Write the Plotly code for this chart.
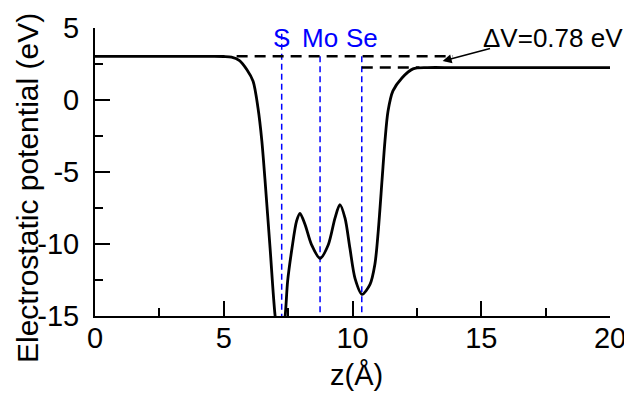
import plotly.graph_objects as go

# Planar-averaged electrostatic potential
z_vals = [0, 4.5, 5.0, 5.3, 5.6, 5.9, 6.14, 6.33, 6.48, 6.6, 6.8, 6.99, 7.18, 7.38, 7.48, 7.65,
          7.83, 7.96, 8.16, 8.41, 8.74, 9.06, 9.32, 9.51, 9.71, 9.9, 10.1, 10.37, 10.68,
          10.87, 11.0, 11.15, 11.26, 11.38, 11.57, 11.92, 12.35, 12.9, 14.0, 20.0]
v_vals = [3.03, 3.03, 3.02, 2.98, 2.75, 2.1, 1.3, -0.55, -2.85, -5.5, -10.3, -14.9, -17.5, -15.1, -12.6, -10.3,
          -8.4, -7.87, -8.66, -10.05, -11.0, -10.05, -8.2, -7.26, -8.2, -10.3, -12.4, -13.5, -12.8,
          -11.4, -9.1, -5.5, -2.85, -0.77, 0.63, 1.53, 2.16, 2.25, 2.25, 2.25]

atom_labels = ["S", "Mo", "Se"]
atom_z = [7.25, 8.74, 10.36]
atom_top = [4.6, 3.03, 3.03]

vac_left = 3.03
vac_right = 2.25
upper_dash_x = [5.5, 13.9]
lower_dash_x = [10.36, 12.6]
delta_label = "ΔV=0.78 eV"

x_ticks = [0, 5, 10, 15, 20]
y_ticks = [5, 0, -5, -10, -15]

FONT = "Arial, Liberation Sans, sans-serif"

# page body has an 8px default margin: figure occupies 624x387 starting at (8, 8)
PLOT_L, PLOT_R, PLOT_T, PLOT_B = 95, 610, 28, 316
PW, PH = PLOT_R - PLOT_L, PLOT_B - PLOT_T

fig = go.Figure()

# atom position lines
for zl, top in zip(atom_z, atom_top):
    fig.add_trace(go.Scatter(x=[zl, zl], y=[top, -15], mode="lines",
                             line=dict(color="#0000ff", width=1.5, dash="6px,4px"),
                             showlegend=False, hoverinfo="skip"))

# vacuum level dashed lines
fig.add_trace(go.Scatter(x=upper_dash_x, y=[vac_left, vac_left], mode="lines",
                         line=dict(color="black", width=2.5, dash="11px,7px"),
                         showlegend=False, hoverinfo="skip"))
fig.add_trace(go.Scatter(x=lower_dash_x, y=[vac_right, vac_right], mode="lines",
                         line=dict(color="black", width=2.5, dash="11px,7px"),
                         showlegend=False, hoverinfo="skip"))

# potential curve
fig.add_trace(go.Scatter(x=z_vals, y=v_vals, mode="lines",
                         line=dict(color="black", width=2.8, shape="spline", smoothing=0.8),
                         showlegend=False))

# atom labels
for lab, zl in zip(atom_labels, atom_z):
    fig.add_annotation(x=zl, y=4.3, text=lab, showarrow=False,
                       font=dict(family=FONT, size=26, color="#0000ff"),
                       xanchor="center", yanchor="middle")

# delta V label and arrow
fig.add_annotation(x=15.0, y=4.3, text=delta_label, showarrow=False,
                   font=dict(family=FONT, size=26, color="black"),
                   xanchor="left", yanchor="middle")
fig.add_annotation(x=13.5, y=2.7, ax=15.4, ay=3.6, axref="x", ayref="y",
                   xref="x", yref="y", text="", showarrow=True,
                   arrowhead=2, arrowsize=1.2, arrowwidth=1.5, arrowcolor="black")

# axis titles as paper annotations
fig.add_annotation(xref="paper", yref="paper", x=(356 - PLOT_L) / PW, y=(PLOT_B - 375) / PH,
                   text="z(Å)", showarrow=False, xanchor="center", yanchor="middle",
                   font=dict(family=FONT, size=29, color="black"))
fig.add_annotation(xref="paper", yref="paper", x=(27 - PLOT_L) / PW, y=(PLOT_B - 188) / PH,
                   text="Electrostatic potential (eV)", showarrow=False, textangle=-90,
                   xanchor="center", yanchor="middle",
                   font=dict(family=FONT, size=30, color="black"))

axis_common = dict(showgrid=False, zeroline=False, showline=True, linecolor="black",
                   linewidth=2, ticks="inside", ticklen=15, tickwidth=2, tickcolor="black",
                   tickfont=dict(family=FONT, size=29, color="black"), mirror=False,
                   automargin=False)

fig.update_xaxes(range=[0, 20], tickvals=x_ticks, ticktext=[str(t) for t in x_ticks],
                 minor=dict(ticks="inside", ticklen=8, tickwidth=2, tickcolor="black", dtick=2.5, tick0=0),
                 ticklabelstandoff=-5, **axis_common)
fig.update_yaxes(range=[-15, 5], tickvals=y_ticks, ticktext=[str(t) if t >= 0 else "-" + str(-t) for t in y_ticks],
                 minor=dict(ticks="inside", ticklen=8, tickwidth=2, tickcolor="black", dtick=2.5, tick0=0),
                 ticklabelstandoff=8, **axis_common)

fig.update_layout(width=624, height=387,
                  margin=dict(l=PLOT_L - 8, r=632 - PLOT_R, t=PLOT_T - 8, b=395 - PLOT_B),
                  plot_bgcolor="white", paper_bgcolor="white",
                  font=dict(family=FONT, color="black"))

fig.write_html("out.html")
